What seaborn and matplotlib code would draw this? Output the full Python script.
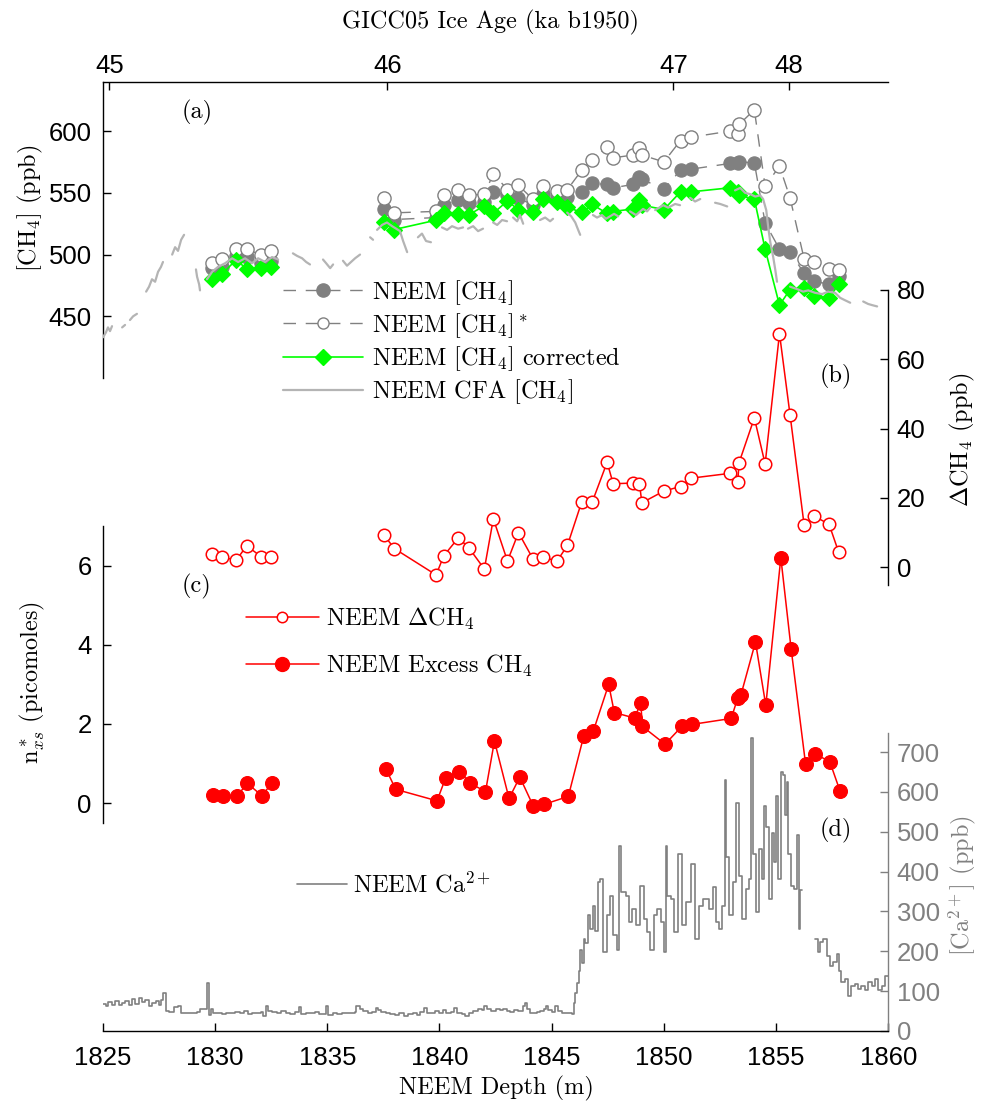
import numpy as np
import pandas as pd
import matplotlib
matplotlib.use("Agg")
import matplotlib.pyplot as plt
from matplotlib.lines import Line2D
import seaborn as sns

# ---------------------------------------------------------------- data
# discrete NEEM samples (depth in m)
sample_depth = [1829.88, 1830.31, 1830.95, 1831.41, 1832.05, 1832.50,
                1837.53, 1837.99, 1839.85, 1840.19, 1840.84, 1841.30, 1842.00,
                1842.40, 1843.03, 1843.52, 1844.16, 1844.62, 1845.24, 1845.70,
                1846.34, 1846.81, 1847.47, 1847.74, 1848.61, 1848.91, 1849.02,
                1850.00, 1850.74, 1851.20, 1852.94, 1853.29, 1853.35, 1854.03,
                1854.51, 1855.15, 1855.62, 1856.25, 1856.69, 1857.36, 1857.78]

ch4 = [489, 490, 499, 498, 493, 495,
       536.8, 528.4, 530, 540, 544.1, 541.4, 543, 550.8, 548, 546, 540, 549,
       547, 546.3, 550.8, 557.6, 556.8, 554.1, 556.8, 563.0, 561, 553.0,
       568.4, 569.2, 573.8, 573.8, 575.1, 574.3, 525.7, 504.4, 502.2, 484.7,
       478.4, 476.0, 482.7]

ch4_star = [493.3, 496.3, 504.9, 504.4, 499.8, 503.0,
            546.0, 533.8, 535, 547.9, 552.7, 548.1, 548.9, 565.4, 552.7, 556.0,
            544.9, 555.4, 551.4, 552.7, 568.4, 576.5, 587.3, 578.4, 580.6,
            586.5, 580.6, 575.1, 592.4, 595.1, 600.0, 597.3, 605.4, 617.3,
            555.4, 571.6, 546.0, 496.3, 493.6, 488.7, 487.6]

ch4_corrected = [480.6, 484.1, 496.0, 488.0, 489.2, 490.0,
                 526.5, 520.3, 527.9, 533.8, 532.7, 532.2, 539.5, 533.5, 543.5,
                 536.2, 534.1, 544.7, 542.2, 538.4, 534.1, 540.6, 533.3, 534.9,
                 537, 544, 540, 536.5, 550.8, 550.8, 554.1, 550.8, 548, 544.9,
                 504.4, 459.0, 471.7, 473.0, 466.3, 464.9, 475.8]

delta_ch4 = [3.8, 2.9, 2.1, 6.2, 3.1, 3.1,
             9.3, 5.4, -2.2, 3.3, 8.5, 5.7, -0.5, 14.0, 1.8, 10.0, 2.5, 2.9,
             1.8, 6.3, 18.9, 18.9, 30.3, 24.1, 24.3, 24.1, 18.6, 22.0, 23.3,
             25.7, 27.1, 24.6, 30.2, 43.1, 29.8, 67.4, 44.0, 12.1, 14.8, 12.4,
             4.5]

excess_depth = [1829.91, 1830.36, 1830.99, 1831.44, 1832.09, 1832.55,
                1837.61, 1838.05, 1839.89, 1840.27, 1840.89, 1841.36, 1842.05,
                1842.45, 1843.10, 1843.58, 1844.17, 1844.65, 1845.74, 1846.43,
                1846.86, 1847.54, 1847.79, 1848.69, 1848.97, 1849.04, 1850.05,
                1850.80, 1851.26, 1853.00, 1853.29, 1853.43, 1854.08, 1854.54,
                1855.21, 1855.67, 1856.31, 1856.75, 1857.39, 1857.84]

excess_ch4 = [0.21, 0.18, 0.19, 0.50, 0.19, 0.52,
              0.87, 0.35, 0.06, 0.63, 0.80, 0.51, 0.29, 1.57, 0.12, 0.66,
              -0.06, -0.03, 0.17, 1.70, 1.83, 3.00, 2.29, 2.15, 2.53, 1.94,
              1.49, 1.94, 1.99, 2.14, 2.66, 2.73, 4.07, 2.47, 6.20, 3.89,
              1.00, 1.24, 1.05, 0.32]

# continuous-flow CH4 record; NaN marks a gap in the record
nan = np.nan
cfa_depth = [1825.01, 1825.14, 1825.23, 1825.32, 1825.41, nan,
             1825.86, 1825.99, nan,
             1826.21, 1826.35, 1826.52, nan,
             1826.93, 1827.06, 1827.19, 1827.33, 1827.46, 1827.59, 1827.68, nan,
             1828.09, 1828.22, 1828.35, 1828.49, 1828.62, nan,
             1829.15, 1829.20, 1829.29, 1829.33, nan,
             1829.64, 1829.87, 1830.13, 1830.45, 1830.76, 1831.03, 1831.34,
             1831.65, 1831.92, 1832.23, 1832.54, 1832.81, nan,
             1833.47, 1833.65, 1833.88, 1834.06, 1834.23, nan,
             1834.81, 1834.95, 1835.13, 1835.26, nan,
             1835.70, 1835.88, 1836.06, 1836.24, 1836.46, nan,
             1836.91, 1837.04, nan,
             1837.22, 1837.44, 1837.66, 1837.89, 1838.07, 1838.24, 1838.38,
             1838.56, nan,
             1839.04, 1839.22, 1839.40, 1839.62, nan,
             1840.11, 1840.34, 1840.56, 1840.83, 1841.05, nan,
             1841.27, 1841.50, 1841.72, 1841.94, nan,
             1842.39, 1842.57, 1842.79, 1843.01, nan,
             1843.28, 1843.46, 1843.59, 1843.73, nan,
             1844.48, 1844.71, 1844.93, 1845.06, nan,
             1845.69, 1845.87, 1846.05, 1846.18, 1846.27, nan,
             1846.84, 1847.02, 1847.24, 1847.42, 1847.60, 1847.78, 1847.96, nan,
             1848.49, 1848.76, 1849.07, 1849.25, 1849.39, nan,
             1849.61, 1849.97, 1850.19, 1850.50, 1850.72, nan,
             1851.17, 1851.39, 1851.62, nan,
             1852.28, 1852.51, 1852.82, nan,
             1853.17, 1853.40, 1853.62, 1853.84, 1854.07, 1854.29, 1854.42,
             1854.56, 1854.65, 1854.74, 1854.87, 1854.96, 1855.04, nan,
             1855.62, 1855.94, 1856.20, 1856.43, 1856.74, 1857.05, 1857.32,
             1857.63, 1857.85, 1858.07, 1858.30, nan,
             1858.88, 1859.10, 1859.29, 1859.50]
cfa_ch4 = [433, 437, 441, 438, 442, nan,
           441, 443, nan,
           447, 450, 452, nan,
           470, 474, 480, 478, 486, 490, 494, nan,
           500, 506, 503, 512, 516, nan,
           488, 482, 476, 471, nan,
           480, 486, 490, 493, 497, 494, 497, 493, 497, 494, 498, 496, nan,
           501, 499, 497, 494, 492, nan,
           496, 493, 489, 492, nan,
           495, 491, 494, 497, 500, nan,
           514, 512, nan,
           520, 524, 526, 523, 521, 519, 511, 502, nan,
           514, 517, 511, 510, nan,
           522, 520, 523, 521, 522, nan,
           521, 523, 519, 521, nan,
           526, 524, 528, 527, nan,
           530, 527, 532, 525, nan,
           528, 530, 527, 529, nan,
           534, 531, 526, 520, 516, nan,
           532, 530, 532, 529, 531, 533, 531, nan,
           535, 532, 537, 535, 538, nan,
           536, 540, 538, 541, 540, nan,
           546, 543, 545, nan,
           542, 541, 539, nan,
           552, 554, 550, 549, 547, 548, 545, 536, 522, 510, 498, 488, 478, nan,
           474, 472, 470, 471, 469, 468, 470, 469, 465, 463, 461, nan,
           462, 460, 459, 458]

# Ca2+ record (ppb), stepwise; NaN marks the data gap
ca_depth = [1825.00, 1825.12, 1825.25, 1825.40, 1825.55, 1825.70, 1825.85,
            1826.00, 1826.15, 1826.30, 1826.45, 1826.60, 1826.75, 1826.90,
            1827.05, 1827.20, 1827.35, 1827.50, 1827.60, 1827.70, 1827.80,
            1827.95, 1828.15, 1828.35, 1828.50, 1828.75, 1829.00, 1829.20,
            1829.35, 1829.63, 1829.75, 1829.82, 1829.90, 1830.10, 1830.30,
            1830.50, 1830.70, 1830.90, 1831.10, 1831.30, 1831.45, 1831.65,
            1831.85, 1832.05, 1832.15, 1832.25, 1832.35, 1832.55, 1832.75,
            1832.95, 1833.15, 1833.35, 1833.55, 1833.75, 1833.85, 1834.05,
            1834.25, 1834.45, 1834.65, 1834.95, 1835.05, 1835.25, 1835.45,
            1835.65, 1835.85, 1836.05, 1836.25, 1836.30, 1836.45, 1836.60,
            1836.80, 1837.00, 1837.15, 1837.25, 1837.40, 1837.60, 1837.80,
            1838.00, 1838.20, 1838.40, 1838.60, 1838.80, 1839.00, 1839.15,
            1839.30, 1839.45, 1839.60, 1839.80, 1840.00, 1840.15, 1840.30,
            1840.50, 1840.65, 1840.80, 1841.00, 1841.15, 1841.30, 1841.50,
            1841.70, 1841.90, 1842.00, 1842.10, 1842.30, 1842.50, 1842.70,
            1842.85, 1843.00, 1843.15, 1843.30, 1843.50, 1843.70, 1843.80,
            1843.90, 1844.05, 1844.20, 1844.35, 1844.50, 1844.65, 1844.75,
            1844.85, 1845.00, 1845.15, 1845.30, 1845.45, 1845.60, 1845.75,
            1845.90, 1846.00, 1846.05, 1846.12, 1846.20, 1846.28, 1846.35,
            1846.42, 1846.50, 1846.62, 1846.72, 1846.85, 1846.95, 1847.05,
            1847.15, 1847.30, 1847.45, 1847.60, 1847.75, 1847.90, 1848.00,
            1848.10, 1848.30, 1848.45, 1848.60, 1848.75, 1848.95, 1849.10,
            1849.25, 1849.40, 1849.55, 1849.70, 1849.85, 1850.00, 1850.08,
            1850.15, 1850.30, 1850.45, 1850.65, 1850.80, 1851.00, 1851.20,
            1851.40, 1851.55, 1851.75, 1852.00, 1852.20, 1852.30, 1852.45,
            1852.60, 1852.72, 1852.78, 1852.90, 1853.08, 1853.22, 1853.35,
            1853.50, 1853.65, 1853.80, 1853.90, 1853.98, 1854.10, 1854.25,
            1854.35, 1854.45, 1854.55, 1854.68, 1854.80, 1854.90, 1854.98,
            1855.08, 1855.20, 1855.30, 1855.40, 1855.48, 1855.55, 1855.65,
            1855.80, 1855.95, 1856.02, 1856.08, 1856.14, nan,
            1856.74, 1856.85, 1856.95, 1857.10, 1857.25, 1857.40, 1857.55,
            1857.70, 1857.78, 1857.90, 1858.05, 1858.20, 1858.35, 1858.50,
            1858.65, 1858.80, 1858.95, 1859.10, 1859.25, 1859.40, 1859.55,
            1859.70, 1859.85, 1860.00]
ca_ppb = [68, 62, 72, 66, 74, 64, 70,
          76, 66, 80, 68, 82, 72, 78,
          62, 70, 74, 65, 78, 95, 50,
          48, 60, 62, 46, 45, 44, 48,
          56, 120, 40, 55, 44, 46, 42,
          45, 44, 48, 44, 50, 43, 46,
          44, 48, 38, 62, 50, 47, 44,
          50, 46, 43, 48, 60, 42, 45,
          44, 48, 42, 62, 40, 45, 42,
          44, 46, 44, 48, 62, 55, 50,
          45, 48, 58, 52, 48, 44, 42,
          40, 44, 38, 42, 46, 40, 48,
          58, 46, 44, 50, 46, 52, 44,
          48, 58, 46, 42, 38, 44, 50,
          55, 52, 62, 55, 50, 54, 52,
          56, 50, 48, 52, 50, 62, 70,
          55, 46, 44, 48, 50, 56, 62,
          52, 48, 62, 50, 46, 44, 46,
          42, 70, 95, 120, 150, 204, 170,
          230, 220, 290, 257, 314, 250, 373,
          382, 198, 290, 340, 240, 204, 463,
          349, 340, 273, 307, 265, 365, 282,
          248, 204, 290, 307, 273, 198, 463,
          340, 332, 248, 445, 265, 323, 420,
          231, 314, 332, 307, 362, 273, 256,
          314, 630, 436, 290, 373, 572, 390,
          282, 357, 382, 735, 445, 298, 457,
          382, 564, 513, 332, 497, 424, 590,
          382, 651, 643, 542, 626, 445, 365,
          357, 491, 256, 355, 355, nan,
          231, 198, 223, 231, 189, 164, 172,
          193, 151, 122, 130, 88, 113, 118,
          105, 113, 102, 122, 113, 130, 102,
          113, 139, 139]

# GICC05 age ticks and the depths where they fall
age_ticks = [45, 46, 47, 48]
age_tick_depth = [1825.29, 1837.68, 1850.42, 1855.58]

# ---------------------------------------------------------------- style
sns.set_theme(style="white")
plt.rcParams.update({
    "font.family": ["Liberation Sans", "DejaVu Sans"],
    "mathtext.fontset": "cm",
    "axes.unicode_minus": False,
    "axes.edgecolor": "black",
    "axes.linewidth": 1.0,
    "xtick.color": "black",
    "ytick.color": "black",
    "text.color": "black",
    "lines.scale_dashes": False,
})
SERIF = "cmr10"
TICK = 18.5
LAB = 17.5
GREY = "#808080"
LIGHT = "#b4b4b4"
GREEN = "#00ff00"
RED = "#ff0000"


def runs(depths, values):
    d = np.asarray(depths, float)
    v = np.asarray(values, float)
    seg = np.cumsum(np.isnan(v))
    keep = ~np.isnan(v)
    return pd.DataFrame({"depth": d[keep], "value": v[keep], "seg": seg[keep]})


def samples(depths, values):
    d = np.asarray(depths, float)
    return pd.DataFrame({"depth": d, "value": values,
                         "seg": (d > 1835).astype(int)})


fig = plt.figure(figsize=(9.83, 11.05), dpi=100)
L, W = 0.1046, 0.7991
ax_a = fig.add_axes([L, 0.6579, W, 0.2681])
ax_b = fig.add_axes([L, 0.4706, W, 0.2670])
ax_c = fig.add_axes([L, 0.2552, W, 0.2688])
ax_d = fig.add_axes([L, 0.0670, W, 0.2697])

for ax in (ax_a, ax_b, ax_c, ax_d):
    ax.patch.set_visible(False)
    ax.grid(False)
    for s in ax.spines.values():
        s.set_visible(False)
    ax.set_xlim(1825, 1860)
    ax.tick_params(which="both", left=False, right=False, top=False,
                   bottom=False, labelleft=False, labelright=False,
                   labeltop=False, labelbottom=False)

common = dict(units="seg", estimator=None, sort=False, legend=False)

# ---------------------------------------------------------------- (a) CH4
dash = (0, (9, 7))
sns.lineplot(data=samples(sample_depth, ch4), x="depth", y="value", ax=ax_a,
             color=GREY, linestyle=dash, linewidth=1.0, marker="o",
             markersize=9.5, markerfacecolor=GREY, markeredgecolor=GREY,
             markeredgewidth=0.9, zorder=2, **common)
sns.lineplot(data=samples(sample_depth, ch4_star), x="depth", y="value",
             ax=ax_a, color=GREY, linestyle=dash, linewidth=1.0, marker="o",
             markersize=9.5, markerfacecolor="white", markeredgecolor=GREY,
             markeredgewidth=1.0, zorder=3, **common)
sns.lineplot(data=samples(sample_depth, ch4_corrected), x="depth", y="value",
             ax=ax_a, color=GREEN, linewidth=1.2, marker="D", markersize=8.5,
             markerfacecolor=GREEN, markeredgecolor=GREEN, markeredgewidth=0.8,
             zorder=4, **common)
sns.lineplot(data=runs(cfa_depth, cfa_ch4), x="depth", y="value", ax=ax_a,
             color=LIGHT, linewidth=1.6, zorder=5, **common)

ax_a.set_ylim(400, 640)
ax_a.set_xlabel("")
ax_a.set_ylabel("")
ax_a.spines["left"].set_visible(True)
ax_a.spines["top"].set_visible(True)
ax_a.set_yticks([450, 500, 550, 600])
ax_a.tick_params(axis="y", left=True, labelleft=True, direction="in",
                 length=6, width=1, labelsize=TICK, pad=8)
ax_a.set_xticks(age_tick_depth, labels=[str(a) for a in age_ticks])
ax_a.tick_params(axis="x", top=True, labeltop=True, direction="in",
                 length=6, width=1, labelsize=TICK, pad=3)

leg_a = [
    Line2D([], [], color=GREY, linestyle=dash, linewidth=1.0, marker="o",
           markersize=9.5, markerfacecolor=GREY, markeredgecolor=GREY),
    Line2D([], [], color=GREY, linestyle=dash, linewidth=1.0, marker="o",
           markersize=8, markerfacecolor="white", markeredgecolor=GREY),
    Line2D([], [], color=GREEN, linewidth=1.2, marker="D", markersize=8.5,
           markerfacecolor=GREEN, markeredgecolor=GREEN),
    Line2D([], [], color=LIGHT, linewidth=1.6),
]
lab_a = [r"NEEM [CH$_4$]", r"NEEM [CH$_4$]$^*$", r"NEEM [CH$_4$] corrected",
         r"NEEM CFA [CH$_4$]"]
ax_a.legend(leg_a, lab_a, loc="upper left", bbox_to_anchor=(283 / 983, 1 - 278 / 1105),
            bbox_transform=fig.transFigure, frameon=False, borderpad=0,
            borderaxespad=0, handlelength=3.3, handletextpad=0.37,
            labelspacing=0.18, prop={"family": SERIF, "size": LAB})

# ---------------------------------------------------------------- (b) delta CH4
sns.lineplot(data=samples(sample_depth, delta_ch4), x="depth", y="value",
             ax=ax_b, color=RED, linewidth=1.1, marker="o", markersize=9,
             markerfacecolor="white", markeredgecolor=RED,
             markeredgewidth=1.1, **common)
ax_b.set_ylim(-5.1, 80)
ax_b.set_xlabel("")
ax_b.set_ylabel("")
ax_b.spines["right"].set_visible(True)
ax_b.yaxis.tick_right()
ax_b.set_yticks([0, 20, 40, 60, 80])
ax_b.tick_params(axis="y", right=True, labelright=True, left=False,
                 labelleft=False, direction="in", length=6, width=1,
                 labelsize=TICK, pad=6)

# ---------------------------------------------------------------- (c) excess CH4
sns.lineplot(data=samples(excess_depth, excess_ch4), x="depth", y="value",
             ax=ax_c, color=RED, linewidth=1.1, marker="o", markersize=10,
             markerfacecolor=RED, markeredgecolor=RED, markeredgewidth=0.8,
             **common)
ax_c.set_ylim(-0.5, 7)
ax_c.set_xlabel("")
ax_c.set_ylabel("")
ax_c.spines["left"].set_visible(True)
ax_c.set_yticks([0, 2, 4, 6])
ax_c.tick_params(axis="y", left=True, labelleft=True, direction="in",
                 length=6, width=1, labelsize=TICK, pad=8)

leg_c = [
    Line2D([], [], color=RED, linewidth=1.1, marker="o", markersize=7.5,
           markerfacecolor="white", markeredgecolor=RED, markeredgewidth=1.1),
    Line2D([], [], color=RED, linewidth=1.1, marker="o", markersize=10,
           markerfacecolor=RED, markeredgecolor=RED),
]
ax_c.legend(leg_c, [r"NEEM $\Delta$CH$_4$", r"NEEM Excess CH$_4$"],
            loc="upper left", bbox_to_anchor=(246 / 983, 1 - 606 / 1105),
            bbox_transform=fig.transFigure, frameon=False, borderpad=0,
            borderaxespad=0, handlelength=3.0, handletextpad=0.3,
            labelspacing=0.85, prop={"family": SERIF, "size": LAB})

# ---------------------------------------------------------------- (d) Ca2+
sns.lineplot(data=runs(ca_depth, ca_ppb), x="depth", y="value", ax=ax_d,
             color=GREY, linewidth=1.2, drawstyle="steps-post", **common)
ax_d.set_ylim(0, 748)
ax_d.set_xlabel("")
ax_d.set_ylabel("")
ax_d.spines["right"].set_visible(True)
ax_d.spines["right"].set_color(GREY)
ax_d.spines["bottom"].set_visible(True)
ax_d.yaxis.tick_right()
ax_d.set_yticks(range(0, 701, 100))
ax_d.tick_params(axis="y", right=True, labelright=True, left=False,
                 labelleft=False, direction="in", length=6, width=1,
                 labelsize=TICK, pad=6, colors=GREY)
ax_d.set_xticks([1825, 1830, 1835, 1840, 1845, 1850, 1855, 1860])
ax_d.tick_params(axis="x", bottom=True, labelbottom=True, direction="in",
                 length=6, width=1, labelsize=TICK, pad=11)

ax_d.legend([Line2D([], [], color=GREY, linewidth=1.2)], [r"NEEM Ca$^{2+}$"],
            loc="upper left", bbox_to_anchor=(297 / 983, 1 - 872 / 1105),
            bbox_transform=fig.transFigure, frameon=False, borderpad=0,
            borderaxespad=0, handlelength=2.05, handletextpad=0.25,
            prop={"family": SERIF, "size": LAB})

# ---------------------------------------------------------------- text
def ftext(x, y, s, **kw):
    kw.setdefault("ha", "center")
    kw.setdefault("va", "center")
    fig.text(x / 983, 1 - y / 1105, s, family=SERIF, size=LAB, **kw)


ftext(490, 22, "GICC05 Ice Age (ka b1950)")
ftext(496, 1088, "NEEM Depth (m)")
ftext(30, 208, r"[CH$_4$] (ppb)", rotation=90)
ftext(962, 440, r"$\Delta$CH$_4$ (ppb)", rotation=90)
ftext(32, 682, r"$\mathrm{n}^*_{xs}$ (picomoles)", rotation=90)
ftext(962, 886, r"[Ca$^{2+}$] (ppb)", rotation=90, color=GREY)
ftext(197, 112, "(a)")
ftext(836, 376, "(b)")
ftext(197, 586, "(c)")
ftext(836, 830, "(d)")

fig.savefig("out.png", dpi=100)
